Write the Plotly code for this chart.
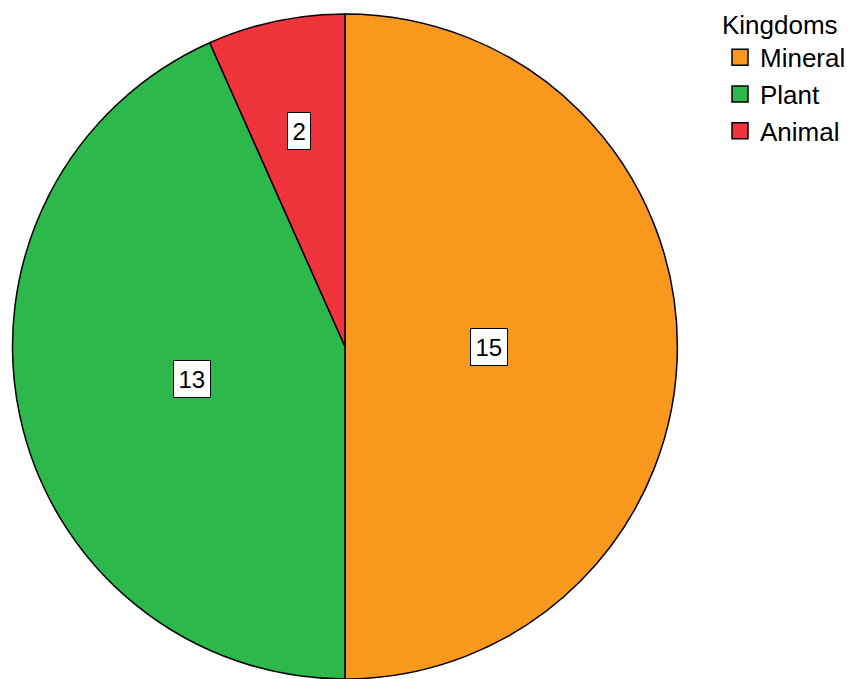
import math
import plotly.graph_objects as go

# ---- data ----
categories = ["Mineral", "Plant", "Animal"]
values = [15, 13, 2]
colors = ["#F8991E", "#2DB84B", "#EF343B"]
legend_title = "Kingdoms"

# ---- layout constants ----
W, H = 851, 679
FONT = "Liberation Sans, Arial, sans-serif"
pie_left, pie_right, pie_top = 12, 678, 14
dom_x = [pie_left / W, pie_right / W]
dom_y = [0, (H - pie_top) / H]
label_radius_frac = [0.434, 0.47, 0.664]  # label distance from centre (fraction of radius)

fig = go.Figure()
fig.add_trace(go.Pie(
    labels=categories, values=values, sort=False,
    direction="clockwise", rotation=0,
    marker=dict(colors=colors, line=dict(color="black", width=1.5)),
    textinfo="none", showlegend=False,
    domain=dict(x=dom_x, y=dom_y),
    hoverinfo="label+value",
))

for c, col in zip(categories, colors):
    fig.add_trace(go.Scatter(
        x=[None], y=[None], mode="markers", name=c,
        marker=dict(symbol="square", size=18, color=col,
                    line=dict(color="black", width=1.5)),
    ))

# label annotations placed at slice mid-angles
dom_w = (dom_x[1] - dom_x[0]) * W
dom_h = (dom_y[1] - dom_y[0]) * H
r = min(dom_w, dom_h) / 2
cx = (dom_x[0] + dom_x[1]) / 2 * W
cy = H - (dom_y[0] + dom_y[1]) / 2 * H
total = sum(values)
cum = 0
annotations = []
for v, f in zip(values, label_radius_frac):
    mid = (cum + v / 2) / total * 2 * math.pi
    cum += v
    px = cx + f * r * math.sin(mid)
    py = cy - f * r * math.cos(mid)
    annotations.append(dict(
        x=px / W, y=1 - py / H, xref="paper", yref="paper",
        text=str(v), showarrow=False, xanchor="center", yanchor="middle",
        font=dict(family=FONT, size=24, color="black"),
        bgcolor="white", bordercolor="black", borderwidth=1, borderpad=4.5,
    ))

fig.update_layout(
    width=W, height=H,
    margin=dict(l=0, r=0, t=0, b=0),
    paper_bgcolor="white", plot_bgcolor="rgba(0,0,0,0)",
    xaxis=dict(visible=False), yaxis=dict(visible=False),
    font=dict(family=FONT, size=26, color="black"),
    annotations=annotations,
    legend=dict(
        title=dict(text=legend_title, font=dict(family=FONT, size=26)),
        font=dict(family=FONT, size=26),
        x=1, xanchor="right", y=1, yanchor="top",
        bgcolor="rgba(0,0,0,0)", borderwidth=0,
    ),
)

fig.write_html(
    "out.html",
    config={"displayModeBar": False},
    post_script="document.body.style.margin='0px';document.body.style.overflow='hidden';",
)
